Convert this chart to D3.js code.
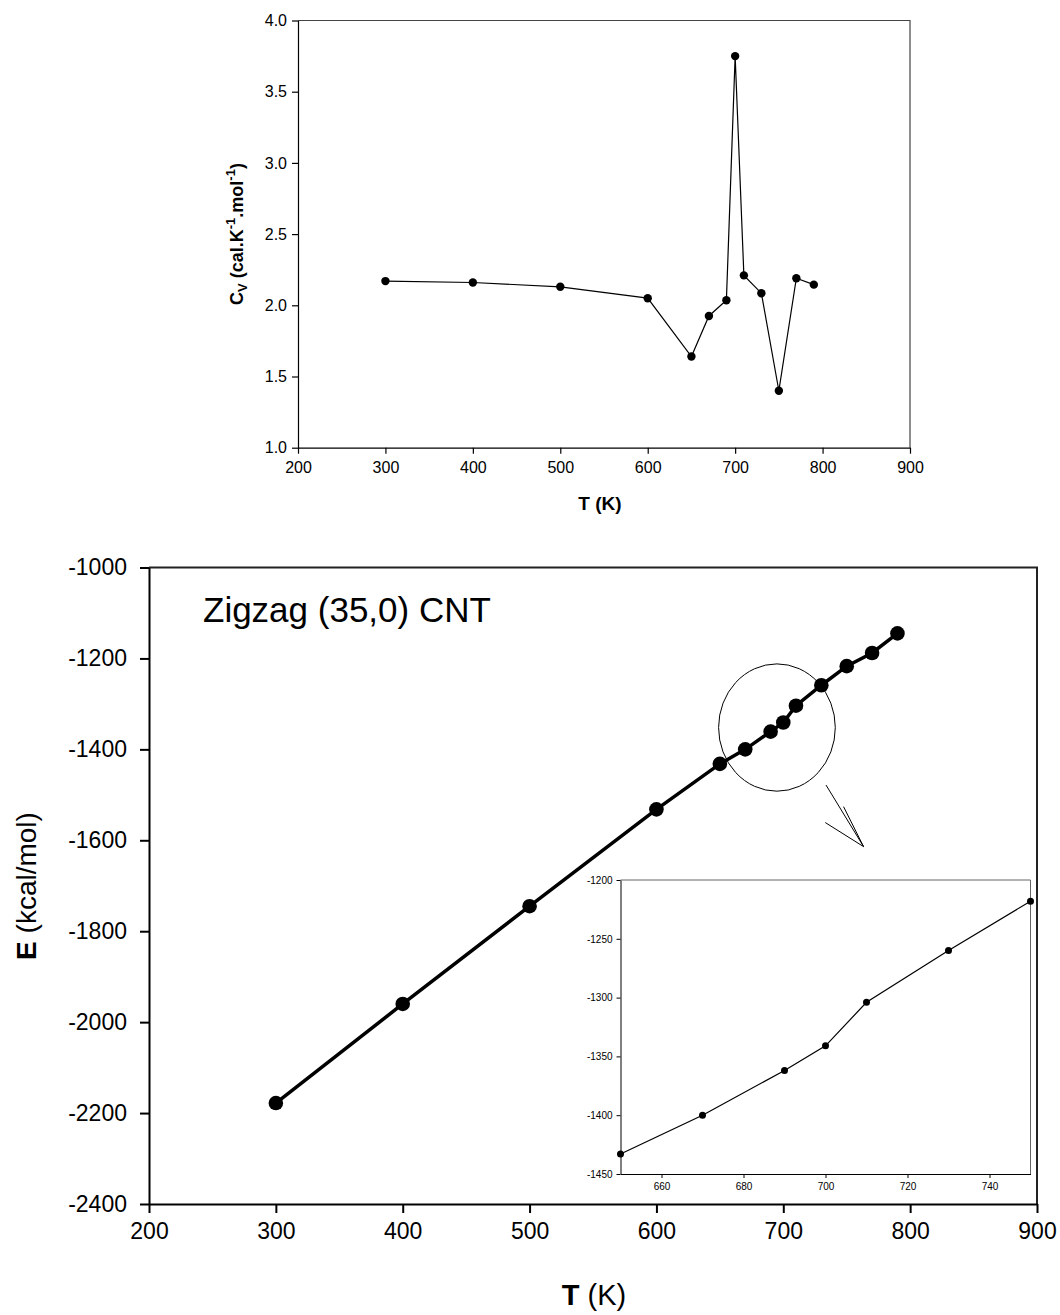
<!DOCTYPE html>
<html>
<head>
<meta charset="utf-8">
<script src="https://cdn.jsdelivr.net/npm/d3@7"></script>
<style>
  body { margin: 0; background: #fff; }
  svg { display: block; font-family: Arial, "Liberation Sans", sans-serif; }
</style>
</head>
<body>
<div id="chart"></div>
<script>
// temperatures shared by both data sets
const temps = [300, 400, 500, 600, 650, 670, 690, 700, 710, 730, 750, 770, 790];
// heat capacity Cv (cal/K/mol)
const cvValues = [2.17, 2.16, 2.13, 2.05, 1.64, 1.925, 2.035, 3.75, 2.21, 2.085, 1.40, 2.19, 2.145];
// energy E (kcal/mol)
const energyValues = [-2178, -1960, -1745, -1532, -1432, -1400, -1361, -1341, -1304, -1259, -1217, -1188, -1145];
// inset window
const insetTemps = [650, 670, 690, 700, 710, 730, 750];
const insetEnergy = [-1433, -1400, -1362, -1341, -1304, -1260, -1218];

const cvTicksX = [200, 300, 400, 500, 600, 700, 800, 900];
const cvTicksY = [1.0, 1.5, 2.0, 2.5, 3.0, 3.5, 4.0];
const eTicksX = [200, 300, 400, 500, 600, 700, 800, 900];
const eTicksY = [-2400, -2200, -2000, -1800, -1600, -1400, -1200, -1000];
const insetTicksX = [660, 680, 700, 720, 740];
const insetTicksY = [-1450, -1400, -1350, -1300, -1250, -1200];

const W = 1060, H = 1315;
const svg = d3.select("#chart").append("svg").attr("width", W).attr("height", H);

// plain hyphen minus, like the original figure
const fmtInt = d => String(d);
const fmtOne = d => d.toFixed(1);

////////////////////////////////////////////////////////////////////////
// helper: frame + axes for one panel
function drawPanel(g, x, y, opt) {
  let [x0, x1] = x.range(), [y0, y1] = y.range();  // y0 bottom, y1 top
  // top and right frame (greyish)
  g.append("path")
    .attr("d", `M${x0},${y1} L${x1},${y1} L${x1},${y0}`)
    .attr("fill", "none").attr("stroke", opt.frameColor).attr("stroke-width", opt.frameWidth);

  let ax = g.append("g").attr("transform", `translate(0,${y0})`)
    .call(d3.axisBottom(x).tickValues(opt.ticksX).tickSize(opt.tick).tickSizeOuter(0)
      .tickPadding(opt.padX).tickFormat(fmtInt));
  let ay = g.append("g").attr("transform", `translate(${x0},0)`)
    .call(d3.axisLeft(y).tickValues(opt.ticksY).tickSize(opt.tick).tickSizeOuter(0)
      .tickPadding(opt.padY).tickFormat(opt.fmtY));
  [ax, ay].forEach(a => {
    a.select(".domain").attr("stroke", "#000").attr("stroke-width", opt.axisWidth);
    a.selectAll(".tick line").attr("stroke", "#000").attr("stroke-width", opt.axisWidth);
    a.selectAll("text").attr("fill", "#000").attr("font-size", opt.font)
      .attr("font-family", "Arial, 'Liberation Sans', sans-serif");
  });
}

////////////////////////////////////////////////////////////////////////
// top panel: Cv vs T
let xCv = d3.scaleLinear().domain([200, 900]).range([298, 910]);
let yCv = d3.scaleLinear().domain([1, 4]).range([447.7, 20.5]);
let gTop = svg.append("g");
drawPanel(gTop, xCv, yCv, {
  ticksX: cvTicksX, ticksY: cvTicksY, tick: 6, padX: 8, padY: 5,
  fmtY: fmtOne, font: 16, axisWidth: 1.2, frameColor: "#444", frameWidth: 1.2
});

let cvData = temps.map((t, i) => ({ t: t, v: cvValues[i] }));
gTop.append("path").datum(cvData)
  .attr("d", d3.line().x(d => xCv(d.t)).y(d => yCv(d.v)))
  .attr("fill", "none").attr("stroke", "#000").attr("stroke-width", 1.2);
gTop.selectAll("circle").data(cvData).enter().append("circle")
  .attr("cx", d => xCv(d.t)).attr("cy", d => yCv(d.v)).attr("r", 4.2).attr("fill", "#000");

gTop.append("text").attr("x", 600).attr("y", 510).attr("text-anchor", "middle")
  .attr("font-size", 19).attr("font-weight", "bold").text("T (K)");

let cvLabel = gTop.append("text")
  .attr("transform", "translate(243,234) rotate(-90)")
  .attr("text-anchor", "middle").attr("font-size", 18).attr("font-weight", "bold");
cvLabel.append("tspan").text("C");
cvLabel.append("tspan").attr("font-size", 13).attr("dy", 4).text("V");
cvLabel.append("tspan").attr("dy", -4).text(" (cal.K");
cvLabel.append("tspan").attr("font-size", 13).attr("dy", -8).text("-1");
cvLabel.append("tspan").attr("dy", 8).text(".mol");
cvLabel.append("tspan").attr("font-size", 13).attr("dy", -8).text("-1");
cvLabel.append("tspan").attr("dy", 8).text(")");

////////////////////////////////////////////////////////////////////////
// bottom panel: E vs T
let xE = d3.scaleLinear().domain([200, 900]).range([149, 1037]);
let yE = d3.scaleLinear().domain([-2400, -1000]).range([1204, 567.5]);
let gBot = svg.append("g");
drawPanel(gBot, xE, yE, {
  ticksX: eTicksX, ticksY: eTicksY, tick: 9, padX: 10, padY: 13,
  fmtY: fmtInt, font: 23, axisWidth: 2, frameColor: "#222", frameWidth: 2
});

let eData = temps.map((t, i) => ({ t: t, v: energyValues[i] }));
gBot.append("path").datum(eData)
  .attr("d", d3.line().x(d => xE(d.t)).y(d => yE(d.v)))
  .attr("fill", "none").attr("stroke", "#000").attr("stroke-width", 3.5);
gBot.selectAll("circle").data(eData).enter().append("circle")
  .attr("cx", d => xE(d.t)).attr("cy", d => yE(d.v)).attr("r", 7.3).attr("fill", "#000");

gBot.append("text").attr("x", 203).attr("y", 622)
  .attr("font-size", 35).text("Zigzag (35,0) CNT");

let tLabel = gBot.append("text").attr("x", 594).attr("y", 1305)
  .attr("text-anchor", "middle").attr("font-size", 29);
tLabel.append("tspan").attr("font-weight", "bold").text("T");
tLabel.append("tspan").text(" (K)");

let eLabel = gBot.append("text").attr("transform", "translate(36,886) rotate(-90)")
  .attr("text-anchor", "middle").attr("font-size", 28);
eLabel.append("tspan").attr("font-weight", "bold").text("E");
eLabel.append("tspan").text(" (kcal/mol)");

// zoom annotation: ellipse around 650-750 K and open arrow to the inset
const zoomCenter = [695, -1352], zoomRadius = [46, 140];
gBot.append("ellipse")
  .attr("cx", xE(zoomCenter[0])).attr("cy", yE(zoomCenter[1]))
  .attr("rx", xE(zoomCenter[0] + zoomRadius[0]) - xE(zoomCenter[0]))
  .attr("ry", yE(zoomCenter[1] - zoomRadius[1]) - yE(zoomCenter[1]))
  .attr("fill", "none").attr("stroke", "#000").attr("stroke-width", 1);
const arrowPts = [[733.7, -1478.5], [763.3, -1614]];
const arrowHead = [[733.1, -1561], [763.3, -1614], [747.5, -1526]];
gBot.append("path")
  .attr("d", d3.line().x(d => xE(d[0])).y(d => yE(d[1]))(arrowPts) + " " +
             d3.line().x(d => xE(d[0])).y(d => yE(d[1]))(arrowHead))
  .attr("fill", "none").attr("stroke", "#000").attr("stroke-width", 1);

////////////////////////////////////////////////////////////////////////
// inset
let xIn = d3.scaleLinear().domain([650, 750]).range([620.5, 1030.5]);
let yIn = d3.scaleLinear().domain([-1450, -1200]).range([1174, 880]);
let gIn = svg.append("g");
gIn.append("rect").attr("x", 620.5).attr("y", 880).attr("width", 410).attr("height", 294)
  .attr("fill", "#fff");
drawPanel(gIn, xIn, yIn, {
  ticksX: insetTicksX, ticksY: insetTicksY, tick: 4, padX: 5, padY: 4,
  fmtY: fmtInt, font: 10, axisWidth: 1, frameColor: "#666", frameWidth: 1
});
let inData = insetTemps.map((t, i) => ({ t: t, v: insetEnergy[i] }));
gIn.append("path").datum(inData)
  .attr("d", d3.line().x(d => xIn(d.t)).y(d => yIn(d.v)))
  .attr("fill", "none").attr("stroke", "#000").attr("stroke-width", 1.2);
gIn.selectAll("circle").data(inData).enter().append("circle")
  .attr("cx", d => xIn(d.t)).attr("cy", d => yIn(d.v)).attr("r", 3.5).attr("fill", "#000");
</script>
</body>
</html>
